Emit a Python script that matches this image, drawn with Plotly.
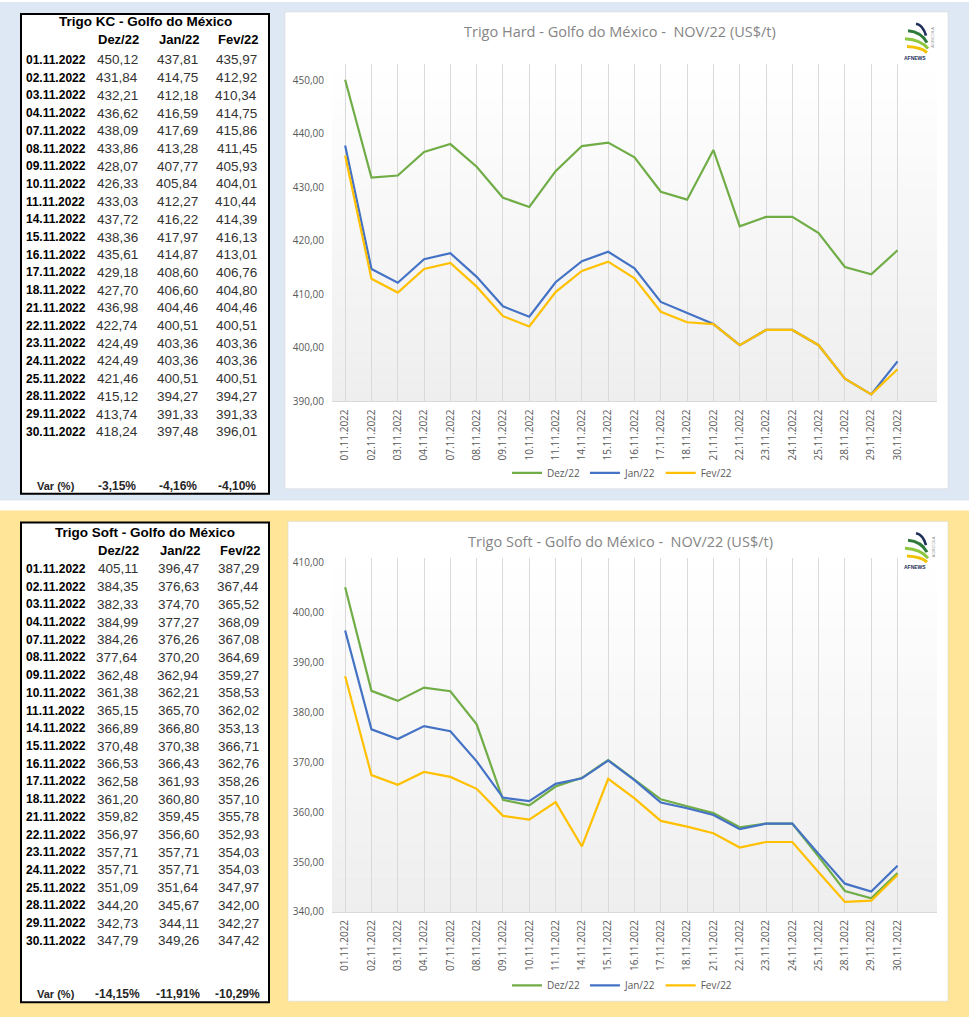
import plotly.graph_objects as go

# ---------------- data ----------------
dates = ["01.11.2022", "02.11.2022", "03.11.2022", "04.11.2022", "07.11.2022", "08.11.2022",
         "09.11.2022", "10.11.2022", "11.11.2022", "14.11.2022", "15.11.2022", "16.11.2022",
         "17.11.2022", "18.11.2022", "21.11.2022", "22.11.2022", "23.11.2022", "24.11.2022",
         "25.11.2022", "28.11.2022", "29.11.2022", "30.11.2022"]
series_names = ["Dez/22", "Jan/22", "Fev/22"]

hard_dez = [450.12, 431.84, 432.21, 436.62, 438.09, 433.86, 428.07, 426.33, 433.03, 437.72, 438.36,
            435.61, 429.18, 427.70, 436.98, 422.74, 424.49, 424.49, 421.46, 415.12, 413.74, 418.24]
hard_jan = [437.81, 414.75, 412.18, 416.59, 417.69, 413.28, 407.77, 405.84, 412.27, 416.22, 417.97,
            414.87, 408.60, 406.60, 404.46, 400.51, 403.36, 403.36, 400.51, 394.27, 391.33, 397.48]
hard_fev = [435.97, 412.92, 410.34, 414.75, 415.86, 411.45, 405.93, 404.01, 410.44, 414.39, 416.13,
            413.01, 406.76, 404.80, 404.46, 400.51, 403.36, 403.36, 400.51, 394.27, 391.33, 396.01]
hard_var = ["-3,15%", "-4,16%", "-4,10%"]

soft_dez = [405.11, 384.35, 382.33, 384.99, 384.26, 377.64, 362.48, 361.38, 365.15, 366.89, 370.48,
            366.53, 362.58, 361.20, 359.82, 356.97, 357.71, 357.71, 351.09, 344.20, 342.73, 347.79]
soft_jan = [396.47, 376.63, 374.70, 377.27, 376.26, 370.20, 362.94, 362.21, 365.70, 366.80, 370.38,
            366.43, 361.93, 360.80, 359.45, 356.60, 357.71, 357.71, 351.64, 345.67, 344.11, 349.26]
soft_fev = [387.29, 367.44, 365.52, 368.09, 367.08, 364.69, 359.27, 358.53, 362.02, 353.13, 366.71,
            362.76, 358.26, 357.10, 355.78, 352.93, 354.03, 354.03, 347.97, 342.00, 342.27, 347.42]
soft_var = ["-14,15%", "-11,91%", "-10,29%"]

hard_table_title = "Trigo KC - Golfo do México"
soft_table_title = "Trigo Soft - Golfo do México"
hard_chart_title = "Trigo Hard - Golfo do México -  NOV/22 (US$/t)"
soft_chart_title = "Trigo Soft - Golfo do México -  NOV/22 (US$/t)"

# ---------------- styling ----------------
W, H = 969, 1024
COLORS = ["#70ad47", "#4472c4", "#ffc000"]
BLUE_BG = "#dee8f4"
YELLOW_BG = "#ffe597"
GRAY_TXT = "#595959"
TABLE_FONT = "Liberation Sans"
CHART_FONT = "Open Sans"


def px(x):
    return x / W


def py(y):
    return 1 - y / H


def fmt(v):
    return f"{v:.2f}".replace(".", ",")


fig = go.Figure()
shapes = []
annotations = []

# page backgrounds
shapes.append(dict(type="rect", xref="paper", yref="paper", x0=0, x1=1, y0=py(503), y1=1,
                   fillcolor=BLUE_BG, line_width=0, layer="below"))
shapes.append(dict(type="rect", xref="paper", yref="paper", x0=0, x1=1, y0=0, y1=py(513),
                   fillcolor=YELLOW_BG, line_width=0, layer="below"))

panels = [
    dict(ser=[hard_dez, hard_jan, hard_fev], var=hard_var, ttitle=hard_table_title,
         ctitle=hard_chart_title, top=12, bottom=496, ptop=10, pbot=491, pleft=285,
         plot_top=62.8, plot_bot=403, yr=[390, 453], ax="", leg="legend",
         row0=58.5, row_dy=17.86, title_y=20, head_y=38, var_y=488,
         val_right=[140, 200, 259], var_right=[138, 199, 258], legend_y=475),
    dict(ser=[soft_dez, soft_jan, soft_fev], var=soft_var, ttitle=soft_table_title,
         ctitle=soft_chart_title, top=525, bottom=1009, ptop=524, pbot=1008, pleft=288,
         plot_top=560.9, plot_bot=918, yr=[340, 411], ax="2", leg="legend2",
         row0=572, row_dy=17.86, title_y=535, head_y=553, var_y=1001,
         val_right=[140, 201, 261], var_right=[142, 202, 262], legend_y=992),
]

PLOT_L, PLOT_R = 332, 937

for p in panels:
    # ----- chart white panel -----
    shapes.append(dict(type="rect", xref="paper", yref="paper", x0=px(p["pleft"]), x1=px(948),
                       y0=py(p["pbot"]), y1=py(p["ptop"]), fillcolor="white",
                       line=dict(color="#d6d6d6", width=0.6), layer="below"))
    # plot-area vertical gradient (white -> light gray)
    n = 40
    h = (p["plot_bot"] - p["plot_top"]) / n
    for i in range(n):
        t = (i + 0.5) / n
        c = int(round(255 - 17 * t))
        shapes.append(dict(type="rect", xref="paper", yref="paper", x0=px(PLOT_L), x1=px(PLOT_R),
                           y0=py(p["plot_top"] + (i + 1) * h + 0.3), y1=py(p["plot_top"] + i * h),
                           fillcolor=f"rgb({c},{c},{c})", line_width=0, layer="below"))

    # ----- table box -----
    shapes.append(dict(type="rect", xref="paper", yref="paper", x0=px(21), x1=px(269),
                       y0=py(p["bottom"]), y1=py(p["top"]), fillcolor="white",
                       line=dict(color="black", width=2), layer="below"))
    annotations.append(dict(text="<b>" + p["ttitle"] + "</b>", x=px(145), y=py(p["title_y"]),
                            xref="paper", yref="paper", showarrow=False, xanchor="center",
                            yanchor="middle", font=dict(family=TABLE_FONT, size=13.5, color="black")))
    for j, name in enumerate(series_names):
        annotations.append(dict(text="<b>" + name + "</b>", x=px(p["val_right"][j] + 1),
                                y=py(p["head_y"]), xref="paper", yref="paper", showarrow=False,
                                xanchor="right", yanchor="middle",
                                font=dict(family=TABLE_FONT, size=13, color="black")))
    for i, d in enumerate(dates):
        yy = py(p["row0"] + i * p["row_dy"])
        annotations.append(dict(text="<b>" + d + "</b>", x=px(24), y=yy, xref="paper", yref="paper",
                                showarrow=False, xanchor="left", yanchor="middle",
                                font=dict(family=TABLE_FONT, size=12, color="black")))
        for j in range(3):
            annotations.append(dict(text=fmt(p["ser"][j][i]), x=px(p["val_right"][j]), y=yy,
                                    xref="paper", yref="paper", showarrow=False, xanchor="right",
                                    yanchor="middle",
                                    font=dict(family=TABLE_FONT, size=13.5, color="#333333")))
    annotations.append(dict(text="<b>Var (%)</b>", x=px(56), y=py(p["var_y"]), xref="paper",
                            yref="paper", showarrow=False, xanchor="center", yanchor="middle",
                            font=dict(family=TABLE_FONT, size=11, color="#262626")))
    for j in range(3):
        annotations.append(dict(text="<b>" + p["var"][j] + "</b>", x=px(p["var_right"][j]),
                                y=py(p["var_y"]), xref="paper", yref="paper", showarrow=False,
                                xanchor="right", yanchor="middle",
                                font=dict(family=TABLE_FONT, size=12, color="#262626")))

    # ----- chart title -----
    annotations.append(dict(text=p["ctitle"], x=px(620), y=py(p["ptop"] + 20), xref="paper",
                            yref="paper", showarrow=False, xanchor="center", yanchor="middle",
                            font=dict(family=CHART_FONT, size=14.5, color="#858585")))

    # ----- logo -----
    ly = p["ptop"]
    stripes = [("#1f2f5a", 916, 12, 926, 24, 2.6), ("#2f7a3a", 908, 19, 927, 31, 3.0),
               ("#8dc63f", 905, 27, 928, 37, 3.0), ("#f2c200", 907, 35, 927, 41, 3.0)]
    for col, x0, y0, x1, y1, w in stripes:
        cx, cy = x0 + 0.7 * (x1 - x0), y0 + 0.1 * (y1 - y0)
        path = (f"M {px(x0)} {py(ly + y0)} Q {px(cx)} {py(ly + cy)} {px(x1)} {py(ly + y1)}")
        shapes.append(dict(type="path", xref="paper", yref="paper", path=path,
                           line=dict(color=col, width=w)))
    annotations.append(dict(text="<b>AFNEWS</b>", x=px(915), y=py(ly + 46), xref="paper",
                            yref="paper", showarrow=False, xanchor="center", yanchor="middle",
                            font=dict(family=TABLE_FONT, size=5, color="#1f2f5a")))
    annotations.append(dict(text="AGRICOLA", x=px(933), y=py(ly + 26), xref="paper",
                            yref="paper", showarrow=False, textangle=-90, xanchor="center",
                            yanchor="middle", font=dict(family=TABLE_FONT, size=4, color="#999999")))

    # ----- traces -----
    for j, name in enumerate(series_names):
        fig.add_trace(go.Scatter(x=dates, y=p["ser"][j], mode="lines", name=name,
                                 line=dict(color=COLORS[j], width=2.2),
                                 xaxis="x" + p["ax"], yaxis="y" + p["ax"], legend=p["leg"]))

# ---------------- axes ----------------
axis_font = dict(family=CHART_FONT, size=10, color=GRAY_TXT)
for p in panels:
    xa = dict(type="category", categoryorder="array", categoryarray=dates,
              range=[-0.5, len(dates) + 0.5], domain=[px(PLOT_L), px(PLOT_R)],
              anchor="y" + p["ax"], tickangle=-90, tickfont=axis_font,
              showgrid=True, gridcolor="#d9d9d9", gridwidth=1,
              showline=True, linecolor="#d9d9d9", linewidth=1, ticks="",
              zeroline=False, ticklabelstandoff=3)
    ya = dict(range=p["yr"], domain=[py(p["plot_bot"]), py(p["plot_top"])],
              anchor="x" + p["ax"], tick0=p["yr"][0], dtick=10, tickformat=".2f",
              tickfont=axis_font, showgrid=False, zeroline=False, showline=False,
              ticks="", ticklabelstandoff=7)
    fig.layout["xaxis" + p["ax"]] = xa
    fig.layout["yaxis" + p["ax"]] = ya

legend_common = dict(orientation="h", xanchor="center", yanchor="middle",
                     bgcolor="rgba(0,0,0,0)", font=dict(family=CHART_FONT, size=10, color=GRAY_TXT),
                     itemwidth=30, tracegroupgap=0)

fig.update_layout(
    width=W, height=H, margin=dict(l=0, r=0, t=0, b=0),
    paper_bgcolor="white", plot_bgcolor="rgba(0,0,0,0)",
    separators=",.", showlegend=True,
    legend=dict(x=px(622), y=py(panels[0]["legend_y"]), **legend_common),
    legend2=dict(x=px(622), y=py(panels[1]["legend_y"]), **legend_common),
    shapes=shapes, annotations=annotations,
)

fig.write_html("out.html", config={"displayModeBar": False},
               post_script="document.body.style.margin='0';")
